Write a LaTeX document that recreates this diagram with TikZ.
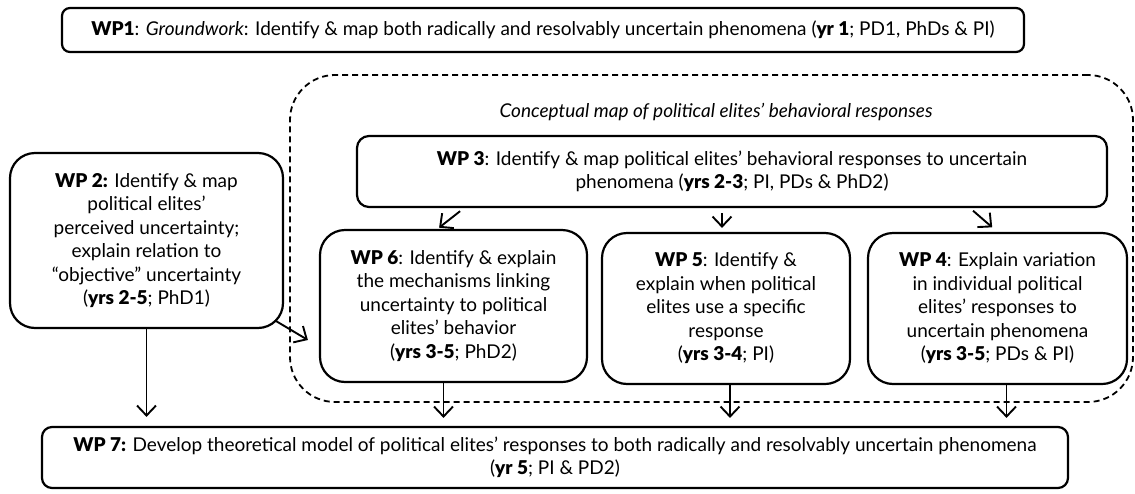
\documentclass[tikz,border=0pt]{standalone}
\usepackage{fontspec}
\setmainfont{Lato}[BoldFont={Lato Black}]
\usetikzlibrary{arrows.meta,calc}
\begin{document}
\begin{tikzpicture}[x=1pt,y=-1pt,
  wpbox/.style={draw, line width=2.2pt, align=center, inner sep=0pt, fill=white,
    font=\fontsize{19}{23.5}\selectfont},
  cont/.style={draw, dash pattern=on 6pt off 4pt, line width=1.8pt, rounded corners=45pt, inner sep=0pt},
  arr/.style={-{Straight Barb[length=10pt,width=19pt]}, line width=1.9pt}
]
\useasboundingbox (0,0) rectangle (1135,493);

\node[cont, minimum width=843pt, minimum height=327pt] (map) at (711.5,238.5) {};
\node[font=\fontsize{19}{22}\selectfont\itshape] (maptitle) at (716,112) {Conceptual map of political elites’ behavioral responses};

\node[wpbox, rounded corners=8pt, minimum width=962pt, minimum height=44pt] (wp1) at (543,30)
  {\textbf{WP1}: \textit{Groundwork}: Identify \& map both radically and resolvably uncertain phenomena (\textbf{yr 1}; PD1, PhDs \& PI)};

\node[wpbox, rounded corners=12pt, minimum width=750pt, minimum height=71pt] (wp3) at (732,171.5)
  {\textbf{WP 3}: Identify \& map political elites’ behavioral responses to uncertain\\ phenomena (\textbf{yrs 2-3}; PI, PDs \& PhD2)};

\node[wpbox, rounded corners=25pt, minimum width=273pt, minimum height=175pt] (wp2) at (146.5,240.5)
  {\textbf{WP 2:} Identify \& map\\ political elites’\\ perceived uncertainty;\\ explain relation to\\ “objective” uncertainty\\ (\textbf{yrs 2-5}; PhD1)};

\node[wpbox, rounded corners=25pt, minimum width=267pt, minimum height=152pt] (wp6) at (453.5,306)
  {\textbf{WP 6}: Identify \& explain\\ the mechanisms linking\\ uncertainty to political\\ elites’ behavior\\ (\textbf{yrs 3-5}; PhD2)};

\node[wpbox, rounded corners=25pt, minimum width=248pt, minimum height=151pt] (wp5) at (726,308.5)
  {\textbf{WP 5}: Identify \&\\ explain when political\\ elites use a specific\\ response\\ (\textbf{yrs 3-4}; PI)};

\node[wpbox, rounded corners=25pt, minimum width=259pt, minimum height=151pt] (wp4) at (997.5,308.5)
  {\textbf{WP 4}: Explain variation\\ in individual political\\ elites’ responses to\\ uncertain phenomena\\ (\textbf{yrs 3-5}; PDs \& PI)};

\node[wpbox, rounded corners=10pt, minimum width=1026pt, minimum height=61pt] (wp7) at (555,457.5)
  {\textbf{WP 7:} Develop theoretical model of political elites’ responses to both radically and resolvably uncertain phenomena\\ (\textbf{yr 5}; PI \& PD2)};

% arrows from WP3
\draw[arr, shorten <=5pt, shorten >=2pt] ([xshift=-268pt]wp3.south) -- ([xshift=-16pt]wp6.north);
\draw[arr, shorten <=5pt, shorten >=4pt] ([xshift=-10pt]wp3.south) -- ([xshift=-10pt]wp3.south |- wp5.north);
\draw[arr, shorten <=4pt, shorten >=7pt] ([xshift=238pt]wp3.south) -- (wp4.north);
% WP2 to WP6
\draw[arr] ($(wp2.south east)+(-8,-8)$) -- ($(wp6.west)+(-11,34)$);
% arrows into WP7
\draw[arr, shorten >=9pt] (wp2.south) -- (wp2.south |- wp7.north);
\draw[arr, shorten >=8pt] ([xshift=-10pt]wp6.south) -- ([xshift=-10pt]wp6.south |- wp7.north);
\draw[arr, shorten >=8pt] ([xshift=4pt]wp5.south) -- ([xshift=4pt]wp5.south |- wp7.north);
\draw[arr, shorten >=8pt] ([xshift=9pt]wp4.south) -- ([xshift=9pt]wp4.south |- wp7.north);
\end{tikzpicture}
\end{document}
